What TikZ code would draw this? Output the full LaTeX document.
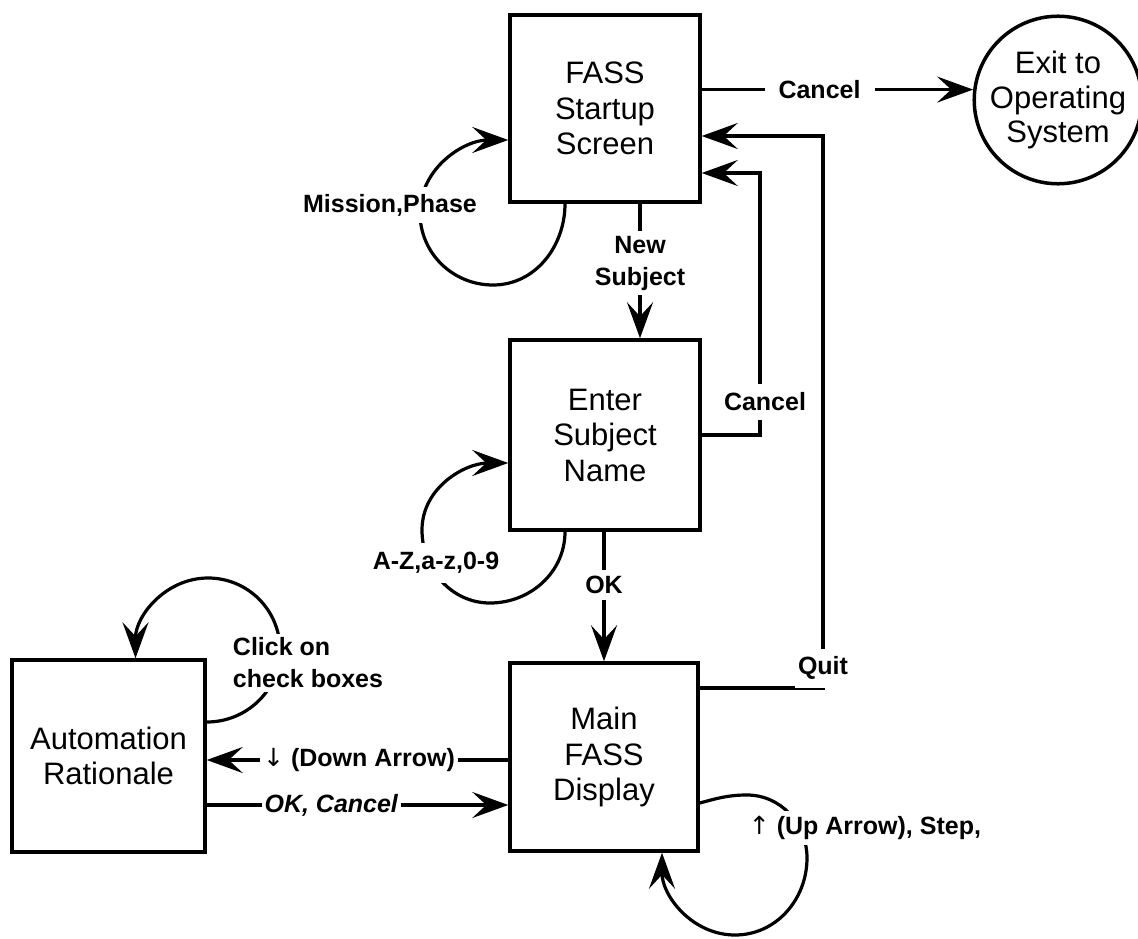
\documentclass[tikz,border=0pt]{standalone}
\usepackage{fontspec}
\setmainfont{Liberation Sans}
\newfontfamily\arrowfont{DejaVu Sans}
\usetikzlibrary{arrows.meta,calc}
\begin{document}
\begin{tikzpicture}[x=1pt,y=1pt,
  box/.style={draw, line width=3.5pt, minimum width=190pt, minimum height=188pt, align=center, inner sep=0pt, font=\fontsize{31}{35.5}\selectfont},
  lbl/.style={font=\bfseries\fontsize{25}{32}\selectfont, fill=white, inner xsep=3pt, inner ysep=7pt},
  conn/.style={line width=3.2pt},
  arr/.style={conn, -{Stealth[length=36pt,width=26pt,inset=14pt]}}]
\useasboundingbox (0,0) rectangle (1138,-939);
\fill[white] (0,0) rectangle (1138,-939);
% nodes
\node[box, minimum height=187pt] (start) at (605,-108.5) {FASS\\Startup\\Screen};
\node[box, minimum height=190pt] (enter) at (605,-435) {Enter\\Subject\\Name};
\node[box, minimum width=188pt] (main) at (604,-757) {Main\\FASS\\Display};
\node[box, minimum width=193pt, minimum height=192pt] (auto) at (108.5,-756) {Automation\\Rationale};
\node[draw, circle, line width=3.5pt, minimum size=160pt, inner sep=0pt, align=center, font=\fontsize{31}{34.5}\selectfont] (exit) at (1058,-100) {Exit to\\Operating\\System};
% helper coordinates
\coordinate (ns) at (640,0);
\coordinate (cx) at (760,0);
\coordinate (qx) at (823,0);
\coordinate (dy) at (0,-760);
\coordinate (oy) at (0,-805);
% Cancel -> exit
\draw[arr] (exit.173 -| start.east) -- node[lbl, inner xsep=14pt, pos=0.434] {Cancel} (exit.173);
% Mission, Phase loop
\draw[arr] ($(start.south)+(-40,0)$) to[out=-90,in=0] (493,-285) to[out=180,in=-90] (420,-213) to[out=90,in=180] ($(start.west)+(0,-31.5)$);
\node[lbl] (lmission) at (390,-205) {Mission,Phase};
% New Subject
\draw[arr] (start.south -| ns) -- node[lbl, inner ysep=5pt, align=center, pos=0.442] {New\\Subject} (enter.north -| ns);
% Cancel from enter to start
\draw[arr] (enter.east) -- (enter.east -| cx) -- node[lbl, pos=0.126, xshift=5pt, inner ysep=9pt] {Cancel} ($(start.east -| cx)+(0,-64.5)$) -- ($(start.east)+(0,-64.5)$);
% Quit
\draw[arr] ($(main.east)+(0,69)$) -- ($(main.east -| qx)+(0,69)$) -- node[lbl, pos=0.036, inner ysep=8pt] {Quit} ($(start.east -| qx)+(0,-27.5)$) -- ($(start.east)+(0,-27.5)$);
% A-Z loop
\draw[arr] ($(enter.south)+(-40,0)$) to[out=-90,in=0] (490,-603) to[out=180,in=-90] (422,-530) to[out=90,in=180] ($(enter.west)+(0,-28)$);
\node[lbl, inner ysep=9pt] (laz) at (436,-563) {A-Z,a-z,0-9};
% OK
\draw[arr] (main.north |- enter.south) -- node[lbl, pos=0.41, inner ysep=6pt] {OK} (main.north);
% Down arrow
\draw[arr] (main.west |- dy) -- node[lbl, pos=0.495, inner ysep=3pt] {{\arrowfont\mdseries ↓} (Down Arrow)} (auto.east |- dy);
% OK, Cancel
\draw[arr] (auto.east |- oy) -- node[lbl, pos=0.413, inner ysep=3pt] {\itshape OK, Cancel} (main.west |- oy);
% Click on check boxes loop
\draw[arr] ($(auto.east)+(0,34)$) to[out=0,in=-90] (280,-650) to[out=90,in=0] (208,-578) to[out=180,in=90] ($(auto.north)+(27,0)$);
\node[lbl, align=left, inner xsep=4pt, inner ysep=4pt] (lclick) at (308,-663) {Click on\\check boxes};
% Up arrow loop
\draw[arr] ($(main.east)+(0,-46)$) to[out=15,in=180] (747,-795) to[out=0,in=90] (807,-858) to[out=-90,in=0] (735,-935) to[out=180,in=-90] ($(main.south)+(58,0)$);
\node[lbl, inner ysep=5pt] (lup) at (865,-828) {{\arrowfont\mdseries ↑} (Up Arrow), Step,};
\end{tikzpicture}
\end{document}
